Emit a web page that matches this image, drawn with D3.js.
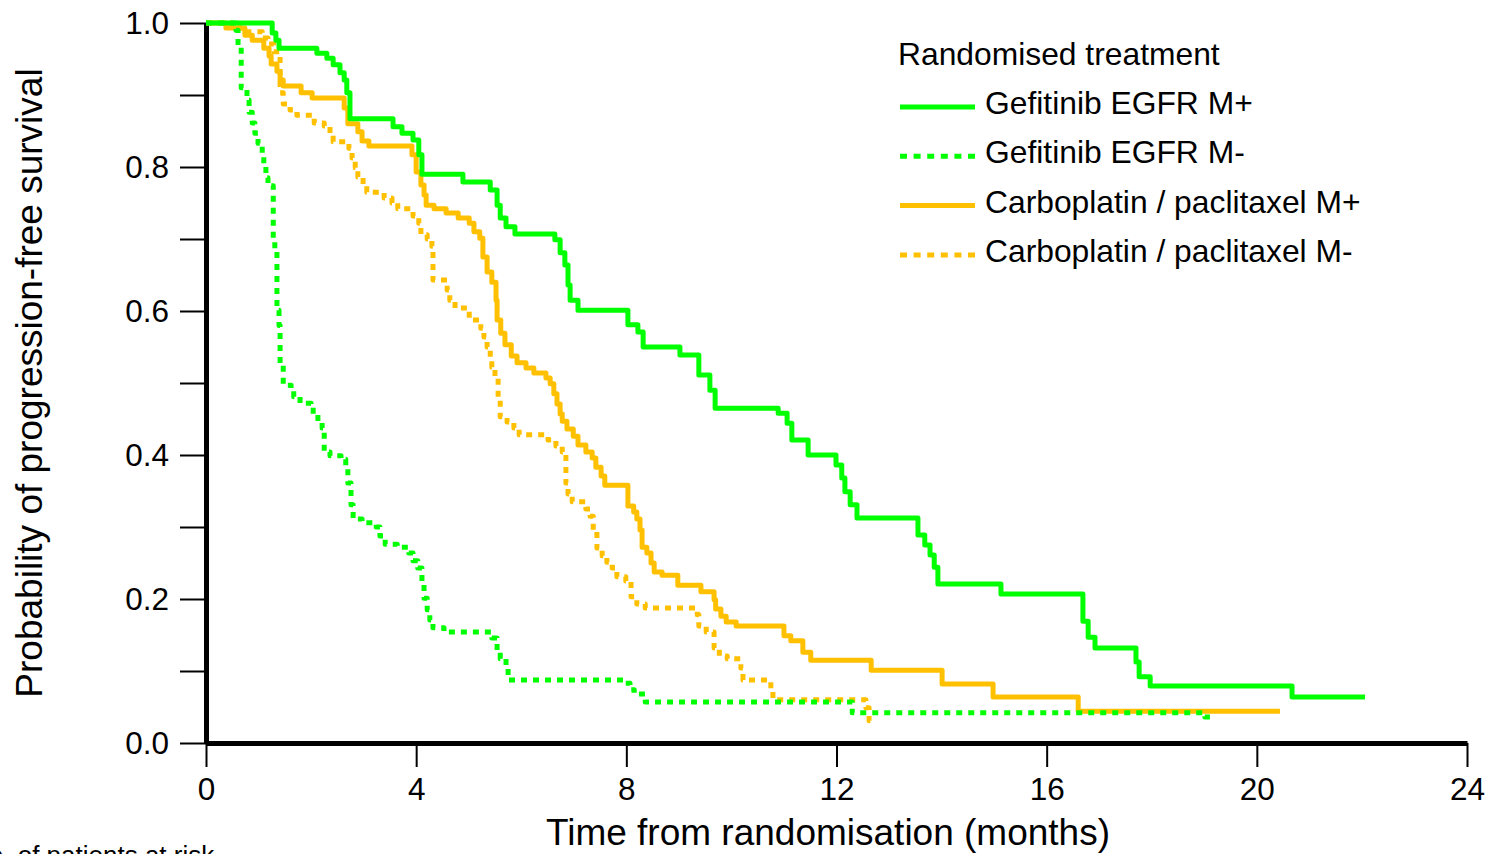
<!DOCTYPE html>
<html>
<head>
<meta charset="utf-8">
<script src="https://cdn.jsdelivr.net/npm/d3@7"></script>
<style>
  body { margin: 0; background: #fff; }
  svg { display: block; font-family: "Liberation Sans", Arial, sans-serif; }
</style>
</head>
<body>
<div id="chart"></div>
<script>
// Kaplan-Meier steps: times (months) where survival changes, and survival after each step
var gPlusT = [0, 1.26, 1.33, 1.39, 2.11, 2.30, 2.42, 2.55, 2.63, 2.68, 2.74, 3.56, 3.73, 3.94, 4.05, 4.11, 4.89, 5.41, 5.54, 5.60, 5.71, 5.88, 6.64, 6.74, 6.83, 6.89, 6.93, 7.08, 8.03, 8.22, 8.32, 9.02, 9.38, 9.59, 9.69, 10.89, 11.06, 11.15, 11.46, 11.99, 12.10, 12.16, 12.26, 12.39, 13.55, 13.68, 13.78, 13.86, 13.93, 15.13, 16.69, 16.79, 16.92, 17.70, 17.76, 17.97, 20.67, 22.06];
var gPlusS = [1.0, 0.986, 0.976, 0.965, 0.958, 0.951, 0.942, 0.931, 0.921, 0.903, 0.867, 0.856, 0.847, 0.8375, 0.817, 0.79, 0.779, 0.768, 0.747, 0.729, 0.717, 0.707, 0.699, 0.681, 0.664, 0.636, 0.615, 0.601, 0.581, 0.571, 0.55, 0.539, 0.511, 0.49, 0.465, 0.458, 0.444, 0.421, 0.4, 0.386, 0.368, 0.349, 0.331, 0.3125, 0.289, 0.275, 0.261, 0.244, 0.221, 0.207, 0.169, 0.147, 0.132, 0.1125, 0.092, 0.079, 0.064, 0.064];

var gMinusT = [0, 0.57, 0.61, 0.67, 0.78, 0.82, 0.88, 0.93, 0.99, 1.07, 1.10, 1.14, 1.18, 1.28, 1.31, 1.35, 1.39, 1.41, 1.47, 1.62, 1.67, 1.79, 2.00, 2.04, 2.13, 2.21, 2.25, 2.36, 2.57, 2.66, 2.70, 2.76, 2.80, 2.97, 3.24, 3.31, 3.41, 3.64, 3.86, 3.94, 4.03, 4.11, 4.15, 4.21, 4.26, 4.32, 4.53, 5.44, 5.54, 5.60, 5.71, 5.75, 7.94, 8.07, 8.15, 8.36, 12.30, 19.01, 19.13];
var gMinusS = [1.0, 0.99, 0.969, 0.91, 0.893, 0.876, 0.861, 0.847, 0.833, 0.819, 0.803, 0.785, 0.774, 0.699, 0.682, 0.601, 0.58, 0.525, 0.497, 0.49, 0.481, 0.472, 0.467, 0.457, 0.447, 0.4375, 0.404, 0.399, 0.394, 0.385, 0.361, 0.331, 0.311, 0.306, 0.3, 0.2875, 0.276, 0.272, 0.264, 0.253, 0.243, 0.224, 0.201, 0.185, 0.171, 0.16, 0.154, 0.146, 0.128, 0.117, 0.104, 0.0875, 0.083, 0.074, 0.068, 0.057, 0.042, 0.036, 0.036];

var cPlusT = [0, 0.38, 0.74, 0.88, 1.10, 1.20, 1.24, 1.35, 1.41, 1.47, 1.81, 2.02, 2.63, 2.70, 2.89, 2.97, 3.10, 3.92, 4.00, 4.09, 4.15, 4.19, 4.34, 4.57, 4.80, 5.01, 5.10, 5.21, 5.27, 5.35, 5.44, 5.52, 5.54, 5.61, 5.69, 5.81, 5.92, 6.09, 6.24, 6.47, 6.55, 6.62, 6.68, 6.74, 6.78, 6.87, 6.99, 7.08, 7.23, 7.35, 7.42, 7.52, 7.59, 8.03, 8.14, 8.20, 8.26, 8.30, 8.39, 8.47, 8.53, 8.68, 8.98, 9.42, 9.67, 9.70, 9.80, 9.90, 10.09, 11.00, 11.13, 11.36, 11.51, 12.66, 14.01, 14.98, 16.60, 20.44];
var cPlusS = [1.0, 0.993, 0.983, 0.976, 0.965, 0.954, 0.943, 0.933, 0.921, 0.9125, 0.903, 0.896, 0.882, 0.86, 0.849, 0.836, 0.829, 0.817, 0.793, 0.775, 0.761, 0.747, 0.742, 0.736, 0.729, 0.722, 0.71, 0.701, 0.675, 0.654, 0.64, 0.615, 0.5875, 0.569, 0.553, 0.5375, 0.528, 0.521, 0.514, 0.507, 0.499, 0.485, 0.471, 0.457, 0.447, 0.436, 0.426, 0.414, 0.404, 0.396, 0.383, 0.371, 0.358, 0.329, 0.321, 0.311, 0.296, 0.272, 0.264, 0.25, 0.2375, 0.233, 0.219, 0.21, 0.199, 0.186, 0.176, 0.168, 0.1625, 0.149, 0.142, 0.126, 0.115, 0.101, 0.082, 0.064, 0.044, 0.044];

var cMinusT = [0, 0.49, 0.65, 1.07, 1.18, 1.29, 1.41, 1.47, 1.60, 1.73, 2.06, 2.25, 2.36, 2.42, 2.72, 2.78, 2.84, 2.89, 2.99, 3.06, 3.39, 3.54, 3.65, 3.94, 4.05, 4.09, 4.21, 4.30, 4.32, 4.59, 4.64, 4.74, 4.97, 5.01, 5.23, 5.29, 5.35, 5.41, 5.44, 5.50, 5.56, 5.60, 5.73, 5.86, 5.96, 6.51, 6.66, 6.78, 6.85, 6.89, 6.97, 7.23, 7.31, 7.37, 7.44, 7.54, 7.63, 7.73, 7.82, 7.99, 8.09, 8.20, 8.36, 9.35, 9.38, 9.52, 9.67, 9.77, 9.92, 10.18, 10.22, 10.75, 10.79, 12.56, 12.62, 12.68];
var cMinusS = [1.0, 0.994, 0.988, 0.979, 0.971, 0.96, 0.903, 0.8875, 0.879, 0.872, 0.861, 0.857, 0.847, 0.835, 0.826, 0.8125, 0.799, 0.786, 0.776, 0.765, 0.757, 0.75, 0.742, 0.732, 0.722, 0.706, 0.7, 0.69, 0.643, 0.629, 0.615, 0.604, 0.599, 0.5875, 0.576, 0.564, 0.55, 0.536, 0.522, 0.508, 0.479, 0.453, 0.446, 0.4375, 0.428, 0.421, 0.4125, 0.404, 0.361, 0.346, 0.335, 0.325, 0.315, 0.296, 0.271, 0.26, 0.251, 0.243, 0.231, 0.225, 0.203, 0.193, 0.1875, 0.178, 0.1625, 0.154, 0.132, 0.121, 0.117, 0.104, 0.0875, 0.074, 0.06, 0.049, 0.031, 0.031];

var seriesNames = ["Gefitinib EGFR M+", "Gefitinib EGFR M-", "Carboplatin / paclitaxel M+", "Carboplatin / paclitaxel M-"];
var xTicks = [0, 4, 8, 12, 16, 20, 24];
var yTicks = [0, 0.1, 0.2, 0.3, 0.4, 0.5, 0.6, 0.7, 0.8, 0.9, 1.0];

var green = "#00ff00",
    orange = "#ffc000";

var series = [
    {name: seriesNames[3], t: cMinusT, s: cMinusS, color: orange, dash: "6,6"},
    {name: seriesNames[2], t: cPlusT, s: cPlusS, color: orange, dash: null},
    {name: seriesNames[1], t: gMinusT, s: gMinusS, color: green, dash: "6,6"},
    {name: seriesNames[0], t: gPlusT, s: gPlusS, color: green, dash: null}
];

var W = 1496, H = 854;

var svg = d3.select("#chart").append("svg")
    .attr("width", W)
    .attr("height", H);

var x = d3.scaleLinear().domain([0, 24]).range([206, 1467]);
var y = d3.scaleLinear().domain([0, 1]).range([743, 23]);

// y axis
var yAxis = svg.append("g")
    .attr("transform", "translate(206,0)")
    .call(d3.axisLeft(y).tickValues(yTicks).tickSize(26).tickSizeOuter(0).tickPadding(11)
        .tickFormat(function(d) { return Math.round(d * 10) % 2 == 0 ? d3.format(".1f")(d) : ""; }));
yAxis.selectAll(".tick line").attr("stroke-width", 2);
yAxis.selectAll(".tick text").style("font-size", "31.5px").attr("fill", "#000");
yAxis.select(".domain").attr("stroke-width", 5);

// x axis
var xAxis = svg.append("g")
    .attr("transform", "translate(0,743)")
    .call(d3.axisBottom(x).tickValues(xTicks).tickSize(24).tickSizeOuter(0).tickPadding(11));
xAxis.selectAll(".tick line").attr("stroke-width", 2);
xAxis.selectAll(".tick text").style("font-size", "31.5px").attr("fill", "#000");
xAxis.select(".domain").attr("stroke-width", 5);

// curves
var line = d3.line()
    .x(function(d) { return x(d[0]); })
    .y(function(d) { return y(d[1]); })
    .curve(d3.curveStepAfter);

svg.append("g").selectAll("path")
    .data(series)
    .enter().append("path")
    .attr("d", function(d) { return line(d.t.map(function(t, i) { return [t, d.s[i]]; })); })
    .attr("fill", "none")
    .attr("stroke", function(d) { return d.color; })
    .attr("stroke-width", 5)
    .attr("stroke-dasharray", function(d) { return d.dash; })
    .attr("stroke-linejoin", "round");

// legend
var legend = svg.append("g");
legend.append("text")
    .attr("x", 898).attr("y", 65)
    .style("font-size", "31.8px")
    .text("Randomised treatment");

var legendItems = [series[3], series[2], series[1], series[0]];
legendItems.forEach(function(d, i) {
    var by = 114 + i * 49.3;
    legend.append("line")
        .attr("x1", 900).attr("x2", 975)
        .attr("y1", by - 7).attr("y2", by - 7)
        .attr("stroke", d.color)
        .attr("stroke-width", 5)
        .attr("stroke-dasharray", d.dash ? "7,6.6" : null);
    legend.append("text")
        .attr("x", 985).attr("y", by)
        .style("font-size", "31.8px")
        .text(d.name);
});

// axis titles
svg.append("text")
    .attr("x", 828).attr("y", 845)
    .attr("text-anchor", "middle")
    .style("font-size", "37px")
    .text("Time from randomisation (months)");

svg.append("text")
    .attr("transform", "translate(42,383) rotate(-90)")
    .attr("text-anchor", "middle")
    .style("font-size", "37px")
    .text("Probability of progression-free survival");

// caption that the reference shows cut off at the bottom edge
svg.append("text")
    .attr("x", -30).attr("y", 864)
    .style("font-size", "26px")
    .text("No. of patients at risk");
</script>
</body>
</html>
